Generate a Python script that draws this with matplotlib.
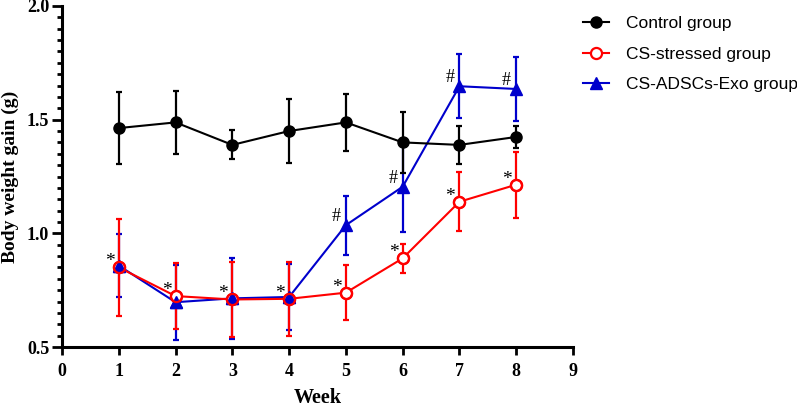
import matplotlib
matplotlib.use("Agg")
import matplotlib.pyplot as plt
from matplotlib.lines import Line2D
from matplotlib.ticker import MultipleLocator

weeks = [1, 2, 3, 4, 5, 6, 7, 8]
control_mean = [1.463, 1.488, 1.389, 1.450, 1.488, 1.400, 1.389, 1.424]
control_sd = [0.160, 0.137, 0.064, 0.140, 0.125, 0.133, 0.083, 0.047]
stressed_mean = [0.850, 0.724, 0.709, 0.712, 0.739, 0.890, 1.139, 1.214]
stressed_sd = [0.213, 0.147, 0.163, 0.164, 0.120, 0.063, 0.130, 0.145]
exo_mean = [0.858, 0.697, 0.714, 0.720, 1.036, 1.205, 1.647, 1.635]
exo_sd = [0.140, 0.165, 0.178, 0.145, 0.130, 0.200, 0.140, 0.141]
star_weeks = [1, 2, 3, 4, 5, 6, 7, 8]
hash_weeks = [5, 6, 7, 8]
labels = ["Control group", "CS-stressed group", "CS-ADSCs-Exo group"]
xticks = [0, 1, 2, 3, 4, 5, 6, 7, 8, 9]

W, H = 797, 407
fig = plt.figure(figsize=(W/100, H/100), dpi=100)
ax = fig.add_axes([62/W, 1-347/H, (573-62)/W, (347-6)/H])

BLUE = "#0000cc"
RED = "#ff0000"
BLACK = "#000000"
EB = dict(elinewidth=1.6, capsize=2.5, capthick=1.6)

# CS-ADSCs-Exo group (bottom layer)
ax.errorbar(weeks, exo_mean, yerr=exo_sd, color=BLUE, marker="^", ms=8.5,
            lw=1.5, zorder=2, mfc=BLUE, mec=BLUE, **EB)
# CS-stressed group
ax.errorbar(weeks, stressed_mean, yerr=stressed_sd, color=RED, marker="o", ms=8,
            mfc="white", mec=RED, mew=1.6, lw=1.5, zorder=3, **EB)
# blue markers visible inside the open red circles
ax.plot(weeks[:4], exo_mean[:4], ls="none", marker="^", ms=8.5, color=BLUE, zorder=3.5)
ax.plot(weeks, stressed_mean, ls="none", marker="o", ms=8, mfc="none", mec=RED,
        mew=1.6, zorder=3.6)
# Control group (top)
ax.errorbar(weeks, control_mean, yerr=control_sd, color=BLACK, marker="o", ms=8,
            lw=1.5, zorder=4, **EB)

for w in star_weeks:
    i = weeks.index(w)
    ax.annotate("*", (w, stressed_mean[i]), xytext=(-6.5, 4), textcoords="offset points",
                ha="center", va="center", fontsize=14, family="Liberation Serif", zorder=6)
for w in hash_weeks:
    i = weeks.index(w)
    ax.annotate("#", (w, exo_mean[i]), xytext=(-7, 6), textcoords="offset points",
                ha="center", va="center", fontsize=13, family="Liberation Serif", zorder=6)

ax.set_xlim(0, 9)
ax.set_ylim(0.5, 2.0)
ax.set_xticks(xticks)
ax.yaxis.set_major_locator(MultipleLocator(0.5))
ax.yaxis.set_minor_locator(MultipleLocator(0.05))
ax.spines["top"].set_visible(False)
ax.spines["right"].set_visible(False)
ax.spines["left"].set_linewidth(2.2)
ax.spines["bottom"].set_linewidth(2.2)
ax.tick_params(axis="x", which="major", length=6, width=2, direction="out", pad=5.5)
ax.tick_params(axis="y", which="major", length=7.2, width=2, direction="out", pad=2)
ax.tick_params(axis="y", which="minor", length=3.6, width=2)
ax.tick_params(axis="x", which="minor", bottom=False)
for lab in ax.get_xticklabels() + ax.get_yticklabels():
    lab.set_family("Liberation Serif")
    lab.set_fontweight("bold")
    lab.set_fontsize(13)

fig.text(317.5/W, 1-403/H, "Week", family="Liberation Serif", fontweight="bold",
         fontsize=14.5, ha="center", va="baseline")
fig.text(10/W, 1-176.5/H, "Body weight gain (g)", family="Liberation Serif",
         fontweight="bold", fontsize=14, ha="center", va="center", rotation=90)

handles = [
    Line2D([], [], color=BLACK, marker="o", ms=8, lw=1.5),
    Line2D([], [], color=RED, marker="o", ms=8, mfc="white", mew=1.6, lw=1.5),
    Line2D([], [], color=BLUE, marker="^", ms=8.5, lw=1.5),
]
fig.legend(handles, labels, loc="upper left", bbox_to_anchor=(583/W, 1-16/H),
           frameon=False, prop={"family": "Liberation Sans", "size": 12.5},
           handlelength=1.5, handletextpad=1.0, labelspacing=0.88, borderpad=0,
           borderaxespad=0)

fig.savefig("out.png", dpi=100)
